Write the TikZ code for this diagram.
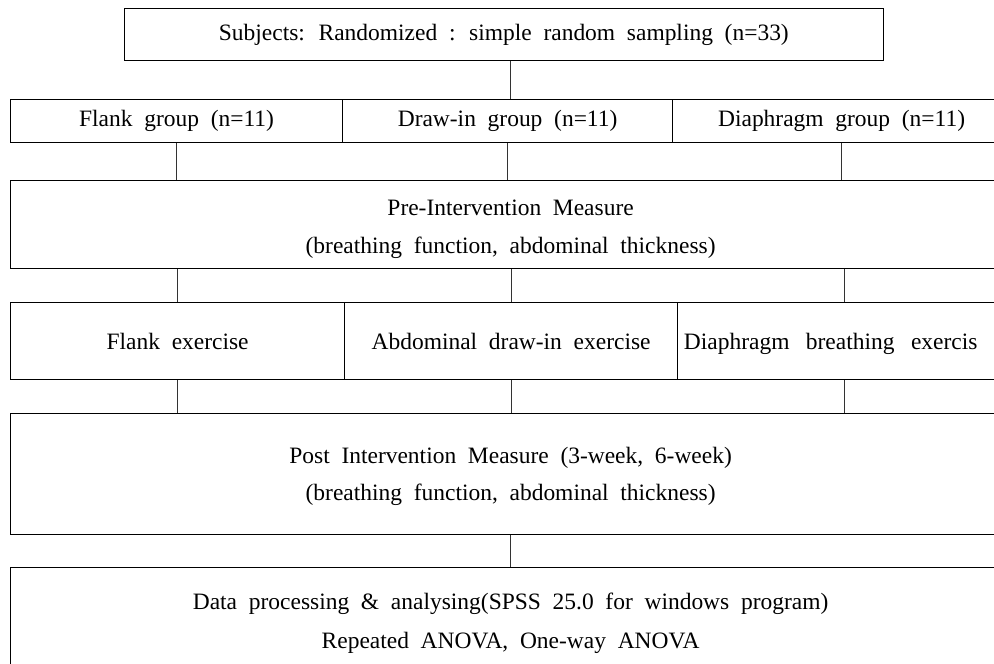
\documentclass[tikz,border=0pt]{standalone}
\usepackage{fontspec}
\setmainfont{Liberation Serif}

\newcommand{\flowfont}{\fontsize{17.6}{21}\selectfont\spaceskip=0.5em\relax}
\newcommand{\wideflowfont}{\fontsize{17.6}{21}\selectfont\spaceskip=0.7em\relax}
\tikzset{
  cell/.style={draw, line width=0.9pt, anchor=north west, inner sep=0pt, align=center, font=\flowfont},
  txt/.style={inner sep=0pt, align=center, font=\flowfont},
  link/.style={draw, line width=0.7pt, black!80},
}

\begin{document}
\begin{tikzpicture}[x=0.75pt, y=-0.75pt]
    \useasboundingbox (0,0) rectangle (994,663);
    \clip (0,0) rectangle (994,663);

    % top
    \node[cell, minimum width=569.6pt, minimum height=39pt] (subj) at (123.5,8)
        {Subjects: Randomized : simple random sampling (n=33)};

    % groups
    \node[cell, minimum width=249pt, minimum height=32.25pt] (flankg) at (10,99) {Flank group (n=11)};
    \node[cell, minimum width=247.5pt, minimum height=32.25pt] (drawg) at (342,99) {Draw-in group (n=11)};
    \node[cell, minimum width=253.5pt, minimum height=32.25pt] (diag) at (672,99) {Diaphragm group (n=11)};

    % pre measure
    \node[cell, minimum width=750pt, minimum height=66pt,
        label={[txt, name=pretext, yshift=-3.5pt]center:{Pre-Intervention Measure\\[7.5pt] (breathing function, abdominal thickness)}}]
        (pre) at (10,180) {};

    % exercises
    \node[cell, minimum width=250.5pt, minimum height=57.75pt] (flankex) at (10,302) {Flank exercise};
    \node[cell, minimum width=249.75pt, minimum height=57.75pt] (absex) at (344,302) {Abdominal draw-in exercise};
    \node[cell, minimum width=249.75pt, minimum height=57.75pt] (diaex) at (677,302) {};
    \node[txt, anchor=base west, font=\wideflowfont] (diaextext)
        at ([xshift=5pt]flankex.base -| diaex.west) {Diaphragm breathing exercis};

    % post measure
    \node[cell, minimum width=750pt, minimum height=90.75pt,
        label={[txt, name=posttext, yshift=-1.5pt]center:{Post Intervention Measure (3-week, 6-week)\\[6.75pt] (breathing function, abdominal thickness)}}]
        (post) at (10,413) {};

    % analysis
    \node[cell, minimum width=750pt, minimum height=84pt,
        label={[txt, name=datatext]center:{Data processing \& analysing(SPSS 25.0 for windows program)\\[8.25pt] Repeated ANOVA, One-way ANOVA}}]
        (data) at (10,567) {};

    % connectors
    \draw[link] (subj.south -| pre.north) -- (drawg.north -| pre.north);
    \foreach \g in {flankg, drawg, diag} {
        \draw[link] (\g.south) -- (\g.south |- pre.north);
    }
    \foreach \e in {flankex, absex, diaex} {
        \draw[link] (\e.north) -- (\e.north |- pre.south);
        \draw[link] (\e.south) -- (\e.south |- post.north);
    }
    \draw[link] (post.south) -- (data.north);
\end{tikzpicture}
\end{document}
